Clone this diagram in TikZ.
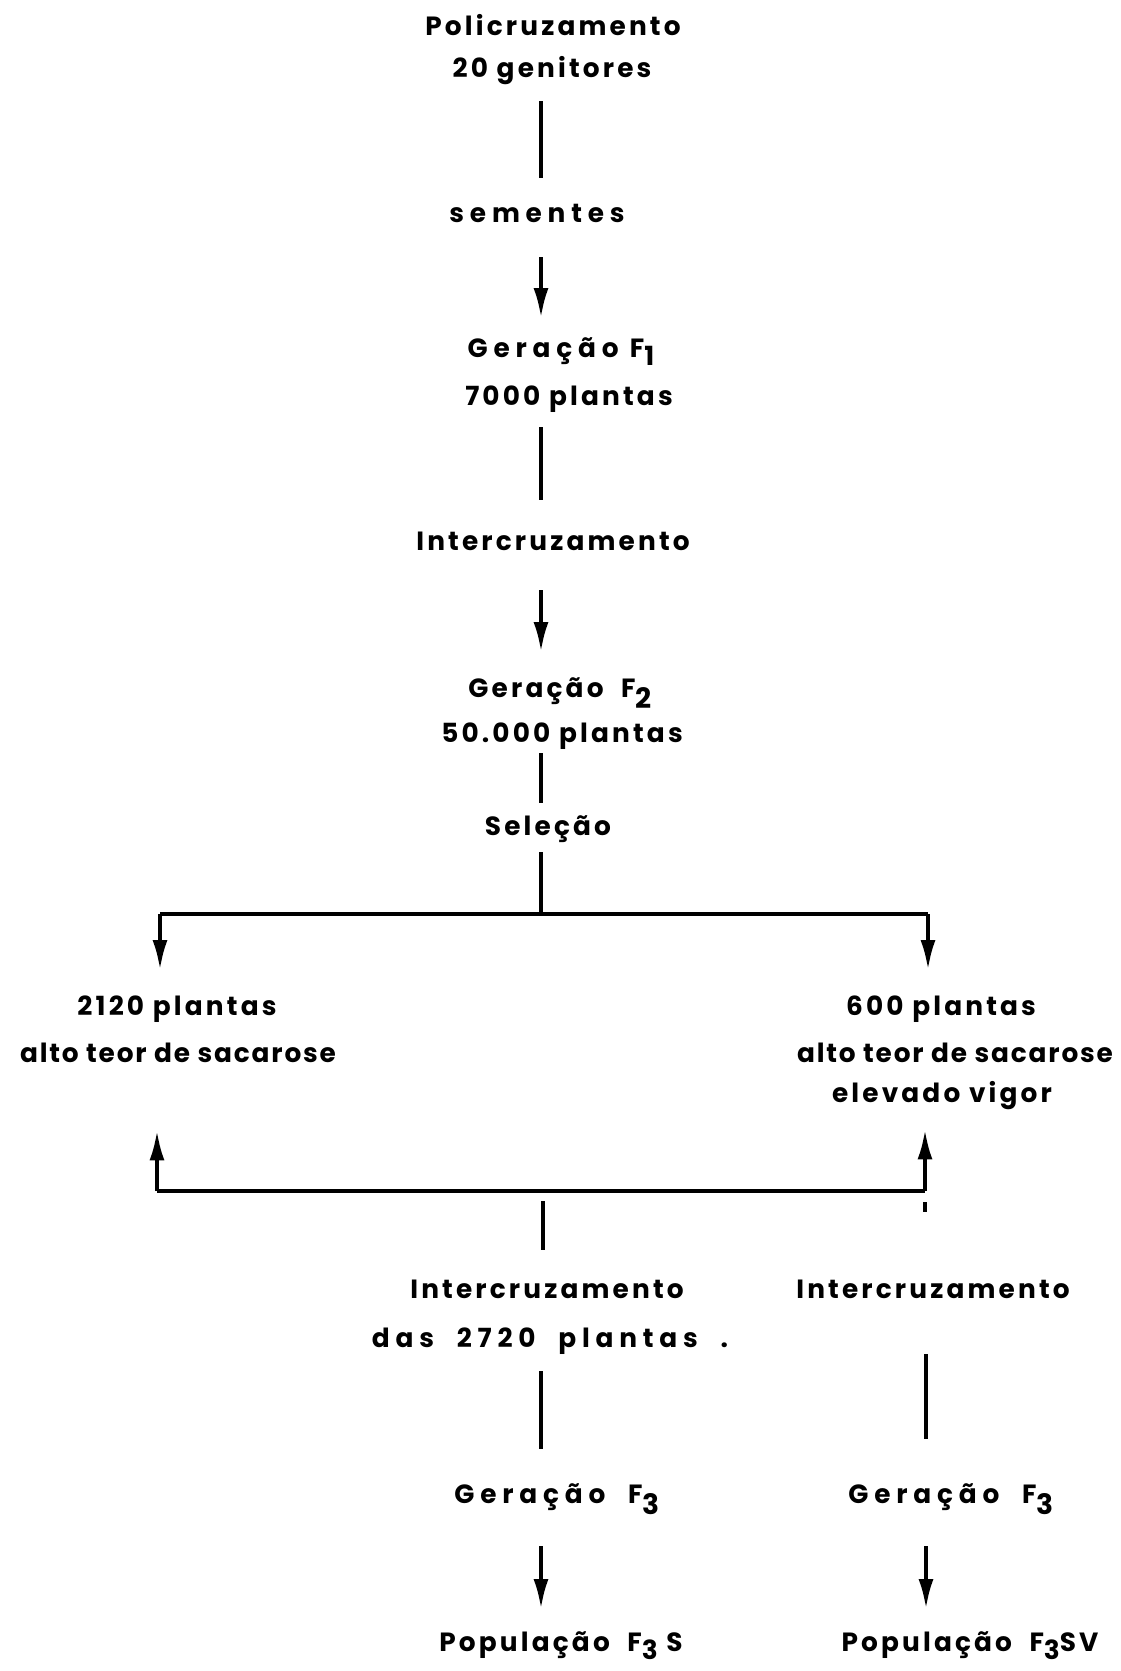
\documentclass[tikz,border=0pt]{standalone}
\usepackage{fontspec}
\setmainfont{Poppins}[LetterSpace=12]
\usetikzlibrary{arrows.meta}
\newcommand{\lowidx}[1]{\raisebox{-0.55ex}{#1}}
\newcommand{\deepidx}[1]{\raisebox{-0.75ex}{\fontsize{16}{18}\selectfont#1}}

\begin{document}
\begin{tikzpicture}[x=0.02cm,y=-0.02cm,
    lbl/.style={anchor=base,inner sep=0,text height=14pt,text depth=4pt,
      font=\fontsize{15}{18}\selectfont\bfseries},
    narrow/.style={font=\fontsize{15}{18}\selectfont\bfseries\addfontfeature{LetterSpace=7}},
    wide/.style={font=\fontsize{15}{18}\selectfont\bfseries\addfontfeature{LetterSpace=22}},
    link/.style={line width=2.2pt},
    tip/.style={line width=2.2pt,-{Latex[length=6mm,width=3mm]}}]
  \useasboundingbox (0,0) rectangle (1120,1671);
  % columns for the connectors
  \coordinate (axis) at (541,0);
  \coordinate (lcol) at (160,0);
  \coordinate (rcol) at (926,0);

  % main stem
  \node[lbl] (poli) at (553,35) {Policruzamento};
  \node[lbl] (gen) at (552,77) {20 genitores};
  \node[lbl,wide] (sem) at (537,222) {sementes};
  \node[lbl,wide] (fA) at (561,357) {Geração F\lowidx{1}};
  \node[lbl] (fApl) at (569,405) {7000 plantas};
  \node[lbl] (inter) at (553,550) {Intercruzamento};
  \node[lbl] (fB) at (560,697) {Geração ~F\deepidx{2}};
  \node[lbl] (fBpl) at (562,742) {50.000 plantas};
  \node[lbl] (sel) at (548,835) {Seleção};

  \draw[link,shorten <=0.34cm,shorten >=0.38cm] (gen.south -| axis) -- (sem.north -| axis);
  \draw[tip,shorten <=0.56cm,shorten >=0.28cm] (sem.south -| axis) -- (fA.north -| axis);
  \draw[link,shorten <=0.30cm,shorten >=0.50cm] (fApl.south -| axis) -- (inter.north -| axis);
  \draw[tip,shorten <=0.66cm,shorten >=0.40cm] (inter.south -| axis) -- (fB.north -| axis);
  \draw[link,shorten <=0.08cm,shorten >=0.14cm] (fBpl.south -| axis) -- (sel.north -| axis);

  % split into two groups
  \coordinate (split) at (541,914);
  \coordinate (bl) at (160,914);
  \coordinate (br) at (928,914);
  \draw[link,shorten <=0.2cm] (sel.south -| axis) -- (split);
  \draw[link] (bl) -- (br);

  \node[lbl] (sA) at (177,1015) {2120 plantas};
  \node[lbl,narrow] (sAtx) at (178,1062) {alto teor de sacarose};
  \node[lbl] (sB) at (941,1015) {600 plantas};
  \node[lbl,narrow] (sBtx) at (955,1062) {alto teor de sacarose};
  \node[lbl] (sBvig) at (942,1102) {elevado vigor};

  \draw[tip,shorten >=0.4cm] (bl) -- (bl |- sA.north);
  \draw[tip,shorten >=0.4cm] (br) -- (br |- sB.north);

  % both groups brought together
  \coordinate (ml) at (157,1191);
  \coordinate (mr) at (925,1191);
  \coordinate (merge) at (543,1191);
  \draw[link] (ml) -- (mr);
  \draw[tip,shorten >=1.22cm] (ml) -- (ml |- sAtx.south);
  \draw[tip,shorten >=0.40cm] (mr) -- (mr |- sBvig.south);
  \draw[link] ([yshift=-0.22cm]mr) -- ([yshift=-0.42cm]mr);

  % left branch
  \node[lbl] (iS) at (547,1298) {Intercruzamento};
  \node[lbl,wide] (iSpl) at (550,1347) {das ~2720 ~plantas ~.};
  \node[lbl,wide] (fCS) at (557,1503) {Geração ~F\deepidx{3}};
  \node[lbl] (popS) at (561,1651) {População ~F\lowidx{3} S};
  \draw[link,shorten <=0.2cm,shorten >=0.46cm] (merge) -- (merge |- iS.north);
  \draw[link,shorten <=0.34cm,shorten >=0.58cm] (iSpl.south -| axis) -- (fCS.north -| axis);
  \draw[tip,shorten <=0.72cm,shorten >=0.34cm] (fCS.south -| axis) -- (popS.north -| axis);

  % right branch
  \node[lbl] (iV) at (933,1298) {Intercruzamento};
  \node[lbl,wide] (fCV) at (951,1503) {Geração ~F\deepidx{3}};
  \node[lbl] (popV) at (970,1651) {População ~F\lowidx{3}SV};
  \draw[link,shorten <=0.98cm,shorten >=0.78cm] (iV.south -| rcol) -- (fCV.north -| rcol);
  \draw[tip,shorten <=0.72cm,shorten >=0.34cm] (fCV.south -| rcol) -- (popV.north -| rcol);
\end{tikzpicture}
\end{document}
